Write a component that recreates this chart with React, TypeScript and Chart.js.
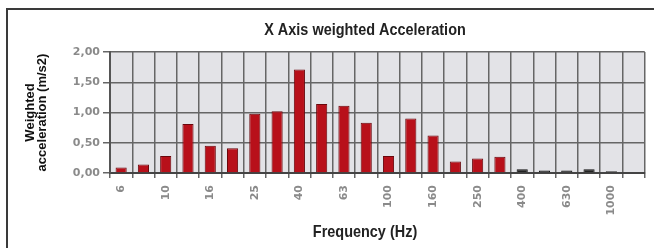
import React, { useEffect, useRef } from 'react';
import { Chart, registerables } from 'chart.js';

Chart.register(...registerables);

const categories = ['6', '8', '10', '12.5', '16', '20', '25', '31.5', '40', '50', '63', '80', '100', '125', '160', '200', '250', '315', '400', '500', '630', '800', '1000', '1250'];
const tickLabels = ['6', '', '10', '', '16', '', '25', '', '40', '', '63', '', '100', '', '160', '', '250', '', '400', '', '630', '', '1000', ''];
const values = [0.09, 0.14, 0.28, 0.81, 0.45, 0.41, 0.98, 1.02, 1.71, 1.14, 1.11, 0.83, 0.28, 0.9, 0.62, 0.19, 0.24, 0.27, 0.06, 0.04, 0.04, 0.06, 0.03, null];
const yTicks = [0, 0.5, 1, 1.5, 2];
const chartTitle = 'X Axis weighted Acceleration';
const xTitle = 'Frequency (Hz)';
const yTitle = ['Weighted', 'acceleration (m/s2)'];

const RED = '#b8101a';
const RED_EDGE = '#6a070c';
const DARK = '#222222';
const DARK_FROM_HZ = 400;

const TITLE_CENTER_X = 365;
const TITLE_BASELINE = 34.5;
const XTITLE_BASELINE = 237;
const CONDENSE = 0.85;

const tickFont = { family: "'DejaVu Sans', sans-serif", weight: 'bold' as const, size: 11 };

const plotBg = {
  id: 'plotBg',
  beforeDraw(chart: any) {
    const { ctx, chartArea } = chart;
    if (!chartArea) return;
    ctx.save();
    ctx.fillStyle = '#e3e3e7';
    ctx.fillRect(chartArea.left, chartArea.top, chartArea.right - chartArea.left, chartArea.bottom - chartArea.top);
    ctx.restore();
  },
};

function condensedText(ctx: CanvasRenderingContext2D, text: string, cx: number, baseline: number) {
  ctx.save();
  ctx.font = "bold 17px 'Liberation Sans', Arial, sans-serif";
  ctx.fillStyle = '#222';
  ctx.textAlign = 'center';
  ctx.textBaseline = 'alphabetic';
  ctx.translate(cx, baseline);
  ctx.scale(CONDENSE, 1);
  ctx.fillText(text, 0, 0);
  ctx.restore();
}

const titles = {
  id: 'condensedTitles',
  afterDraw(chart: any) {
    const { ctx } = chart;
    condensedText(ctx, chartTitle, TITLE_CENTER_X, TITLE_BASELINE);
    condensedText(ctx, xTitle, TITLE_CENTER_X, XTITLE_BASELINE);
  },
};

function isDark(i: number) {
  return parseFloat(categories[i]) >= DARK_FROM_HZ;
}

export default function App() {
  const ref = useRef<HTMLCanvasElement | null>(null);

  useEffect(() => {
    if (!ref.current) return;
    const chart = new Chart(ref.current, {
      type: 'bar',
      data: {
        labels: categories,
        datasets: [
          {
            data: values as any,
            backgroundColor: (c: any) => (isDark(c.dataIndex) ? DARK : RED),
            borderColor: (c: any) => (isDark(c.dataIndex) ? '#111' : RED_EDGE),
            borderWidth: 1,
            barPercentage: 0.5,
            categoryPercentage: 1,
          },
        ],
      },
      options: {
        responsive: false,
        animation: false,
        layout: { padding: { left: 0, right: 9, top: 52, bottom: 27.5 } },
        plugins: {
          legend: { display: false },
          tooltip: { enabled: false },
          title: { display: false },
        },
        scales: {
          x: {
            grid: { offset: true, color: '#666', lineWidth: 1.5, tickLength: 5, tickColor: '#666' },
            border: { display: true, color: '#444', width: 2 },
            ticks: {
              autoSkip: false,
              maxRotation: 90,
              minRotation: 90,
              padding: 7,
              color: '#8a8a8a',
              font: tickFont,
              callback: (_v: any, i: number) => tickLabels[i],
            },
            afterFit: (s: any) => {
              s.height = 47.5;
            },
          },
          y: {
            min: 0,
            max: 2,
            afterBuildTicks: (s: any) => {
              s.ticks = yTicks.map((v) => ({ value: v }));
            },
            ticks: {
              color: '#8a8a8a',
              font: tickFont,
              padding: 3,
              callback: (v: any) => Number(v).toFixed(2).replace('.', ','),
            },
            grid: { color: '#666', lineWidth: 1.5, tickLength: 7, tickColor: '#666' },
            border: { display: true, color: '#555', width: 2 },
            title: {
              display: true,
              text: yTitle,
              color: '#111',
              font: { family: "'Liberation Sans', Arial, sans-serif", weight: 'bold', size: 13, lineHeight: '12px' },
              padding: { top: 24, bottom: 0 },
            },
            afterFit: (s: any) => {
              s.width = 110;
            },
          },
        },
      },
      plugins: [plotBg, titles],
    } as any);
    return () => chart.destroy();
  }, []);

  return (
    <div style={{ position: 'fixed', left: 0, top: 0, width: 654, height: 248, overflow: 'hidden', background: '#fff' }}>
      <canvas ref={ref} width={654} height={248} style={{ position: 'absolute', left: 0, top: 0, display: 'block' }} />
      <div
        style={{
          position: 'absolute',
          left: 6,
          top: 8,
          width: 700,
          height: 300,
          borderTop: '2px solid #3a3a3a',
          borderLeft: '2px solid #3a3a3a',
          pointerEvents: 'none',
        }}
      />
    </div>
  );
}
